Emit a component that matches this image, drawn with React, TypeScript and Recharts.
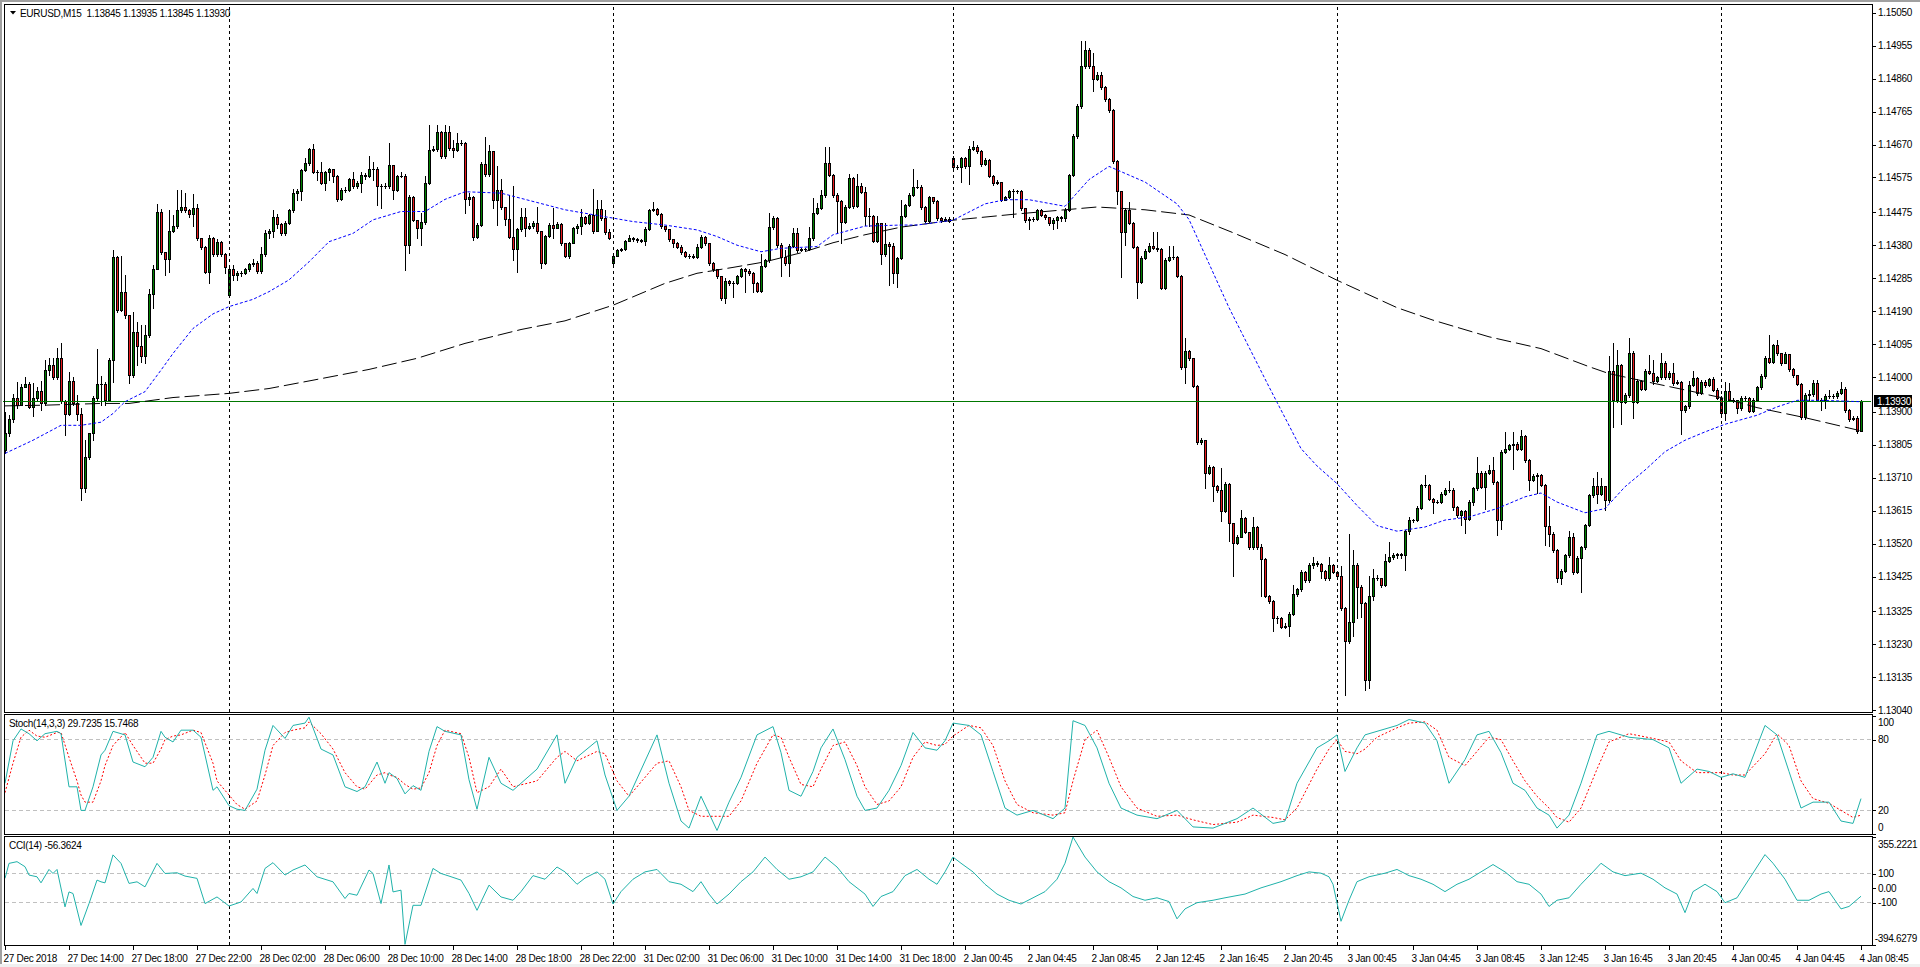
import React from 'react';
import { ComposedChart, Bar, Line, XAxis, YAxis, ReferenceLine } from 'recharts';

// EURUSD M15, 27 Dec 2018 10:00 -> 4 Jan 2019 08:45 (465 bars)
// prices are in points above 1.13000 (1 point = 0.00001)
const closes = [
  840, 880, 940, 920, 970, 980, 915, 940, 960, 925,
  1020, 1035, 1000, 1055, 930, 895, 990, 925, 895, 680,
  770, 840, 940, 980, 980, 935, 1050, 1345, 1193, 1246,
  1180, 1006, 1130, 1090, 1060, 1120, 1240, 1310, 1477, 1360,
  1340, 1420, 1435, 1480, 1490, 1480, 1470, 1486, 1400, 1376,
  1304, 1400, 1355, 1390, 1355, 1316, 1310, 1295, 1300, 1300,
  1310, 1325, 1330, 1305, 1355, 1415, 1420, 1460, 1440, 1416,
  1445, 1480, 1530, 1535, 1597, 1616, 1657, 1592, 1590, 1558,
  1590, 1600, 1580, 1512, 1540, 1540, 1570, 1550, 1560, 1583,
  1580, 1600, 1600, 1550, 1550, 1550, 1610, 1540, 1580, 1580,
  1380, 1520, 1453, 1429, 1446, 1559, 1655, 1657, 1705, 1637,
  1705, 1660, 1655, 1674, 1675, 1512, 1520, 1405, 1438, 1614,
  1585, 1650, 1510, 1540, 1490, 1455, 1405, 1370, 1426, 1460,
  1430, 1435, 1445, 1420, 1330, 1406, 1438, 1430, 1440, 1385,
  1349, 1387, 1429, 1434, 1462, 1445, 1467, 1420, 1483, 1458,
  1419, 1400, 1350, 1365, 1368, 1393, 1400, 1397, 1395, 1393,
  1428, 1480, 1485, 1470, 1435, 1426, 1397, 1387, 1376, 1359,
  1350, 1350, 1347, 1376, 1403, 1385, 1328, 1310, 1290, 1227,
  1278, 1270, 1272, 1290, 1310, 1307, 1300, 1272, 1249, 1320,
  1337, 1432, 1458, 1380, 1347, 1328, 1378, 1414, 1366, 1368,
  1368, 1400, 1472, 1486, 1525, 1618, 1583, 1525, 1506, 1448,
  1491, 1573, 1493, 1550, 1534, 1464, 1464, 1393, 1443, 1355,
  1383, 1378, 1299, 1342, 1464, 1496, 1525, 1549, 1549, 1489,
  1451, 1518, 1506, 1458, 1453, 1455, 1451, 1604, 1605, 1630,
  1607, 1657, 1664, 1650, 1613, 1625, 1580, 1558, 1562, 1511,
  1518, 1537, 1537, 1535, 1486, 1452, 1454, 1456, 1480, 1467,
  1460, 1444, 1452, 1460, 1457, 1482, 1581, 1695, 1782, 1896,
  1943, 1896, 1858, 1870, 1835, 1800, 1769, 1622, 1537, 1419,
  1482, 1444, 1376, 1274, 1343, 1363, 1378, 1372, 1368, 1258,
  1338, 1346, 1346, 1292, 1029, 1076, 1055, 975, 813, 820,
  725, 741, 687, 674, 614, 693, 579, 522, 540, 594,
  553, 509, 569, 509, 477, 369, 356, 306, 306, 280,
  284, 318, 376, 388, 439, 414, 458, 464, 462, 442,
  420, 458, 439, 426, 335, 239, 293, 458, 395, 350,
  128, 369, 420, 420, 400, 470, 483, 487, 490, 486,
  557, 588, 588, 624, 688, 688, 650, 640, 640, 663,
  676, 676, 626, 602, 614, 592, 640, 679, 724, 684,
  724, 732, 698, 588, 785, 794, 804, 808, 794, 830,
  761, 703, 714, 718, 689, 570, 549, 501, 420, 442,
  487, 538, 439, 480, 509, 573, 659, 686, 663, 686,
  647, 1018, 933, 1034, 929, 948, 1070, 929, 989, 967,
  1018, 1012, 989, 999, 1041, 999, 1012, 982, 986, 905,
  916, 977, 996, 953, 986, 977, 993, 964, 941, 897,
  961, 935, 933, 910, 941, 939, 903, 935, 970, 1003,
  1056, 1044, 1092, 1068, 1041, 1066, 1022, 1005, 980, 884,
  948, 950, 983, 935, 934, 945, 945, 945, 955, 967,
  905, 878, 883, 845, 930,
];

const highs = [
  900, 890, 950, 987, 980, 1000, 985, 982, 970, 990,
  1050, 1054, 1054, 1083, 1097, 935, 1015, 1000, 948, 910,
  818, 840, 945, 1080, 1003, 986, 1055, 1366, 1349, 1349,
  1294, 1180, 1188, 1160, 1150, 1150, 1253, 1323, 1498, 1483,
  1360, 1482, 1467, 1540, 1539, 1530, 1485, 1528, 1500, 1402,
  1378, 1410, 1405, 1398, 1393, 1358, 1315, 1323, 1306, 1306,
  1315, 1330, 1340, 1335, 1376, 1424, 1426, 1482, 1470, 1443,
  1450, 1485, 1541, 1541, 1600, 1630, 1660, 1671, 1596, 1620,
  1595, 1602, 1600, 1583, 1545, 1549, 1573, 1592, 1565, 1592,
  1588, 1637, 1620, 1605, 1555, 1558, 1674, 1608, 1583, 1592,
  1585, 1525, 1523, 1453, 1472, 1578, 1727, 1665, 1727, 1708,
  1727, 1724, 1683, 1703, 1683, 1678, 1530, 1523, 1445, 1620,
  1691, 1669, 1650, 1608, 1570, 1490, 1525, 1550, 1429, 1486,
  1486, 1445, 1450, 1491, 1422, 1410, 1445, 1486, 1446, 1445,
  1386, 1390, 1433, 1440, 1483, 1465, 1470, 1541, 1510, 1510,
  1482, 1426, 1355, 1370, 1372, 1396, 1410, 1403, 1400, 1399,
  1432, 1483, 1503, 1488, 1472, 1436, 1428, 1399, 1388, 1380,
  1362, 1356, 1356, 1382, 1408, 1406, 1387, 1332, 1312, 1292,
  1286, 1279, 1276, 1294, 1314, 1313, 1310, 1304, 1274, 1355,
  1341, 1474, 1463, 1462, 1385, 1366, 1383, 1429, 1429, 1373,
  1373, 1432, 1515, 1501, 1539, 1662, 1662, 1585, 1529, 1509,
  1495, 1585, 1575, 1585, 1560, 1549, 1486, 1467, 1464, 1443,
  1445, 1388, 1385, 1346, 1510, 1500, 1530, 1599, 1568, 1553,
  1492, 1522, 1520, 1509, 1460, 1462, 1460, 1636, 1610, 1634,
  1634, 1665, 1680, 1668, 1653, 1630, 1628, 1582, 1568, 1563,
  1523, 1540, 1543, 1540, 1538, 1488, 1460, 1460, 1485, 1483,
  1469, 1462, 1458, 1465, 1463, 1488, 1586, 1700, 1788, 1968,
  1968, 1948, 1934, 1880, 1880, 1840, 1805, 1772, 1625, 1535,
  1486, 1503, 1448, 1378, 1348, 1368, 1386, 1419, 1419, 1372,
  1342, 1378, 1378, 1348, 1295, 1114, 1078, 1056, 978, 825,
  820, 746, 743, 688, 737, 698, 695, 580, 544, 616,
  596, 555, 597, 572, 518, 479, 372, 358, 312, 308,
  290, 322, 400, 393, 444, 442, 463, 481, 470, 464,
  444, 481, 462, 440, 456, 338, 547, 503, 465, 400,
  352, 426, 447, 430, 422, 490, 526, 492, 494, 494,
  560, 597, 592, 628, 691, 717, 691, 653, 646, 668,
  680, 701, 680, 628, 618, 616, 645, 684, 770, 728,
  729, 746, 770, 701, 790, 842, 808, 842, 812, 847,
  833, 765, 720, 723, 720, 693, 628, 553, 505, 446,
  491, 557, 551, 485, 513, 577, 663, 710, 727, 708,
  665, 1060, 1097, 1078, 1038, 953, 1114, 1075, 994, 992,
  1023, 1063, 1049, 1004, 1070, 1046, 1017, 1041, 991, 990,
  920, 989, 1018, 1000, 991, 992, 998, 1001, 968, 945,
  986, 982, 940, 935, 946, 945, 943, 940, 975, 1008,
  1061, 1121, 1096, 1108, 1068, 1073, 1063, 1025, 1006, 983,
  953, 963, 991, 991, 940, 950, 963, 950, 960, 986,
  970, 907, 888, 888, 935,
];

const lows = [
  780, 830, 870, 910, 920, 970, 910, 887, 935, 905,
  920, 1005, 993, 995, 925, 833, 890, 920, 876, 647,
  670, 765, 820, 935, 919, 919, 930, 986, 1188, 1190,
  1170, 982, 1000, 1034, 1044, 1041, 1116, 1198, 1310, 1355,
  1294, 1304, 1418, 1430, 1475, 1475, 1460, 1434, 1395, 1370,
  1299, 1272, 1350, 1350, 1350, 1299, 1230, 1280, 1280, 1290,
  1296, 1305, 1320, 1299, 1300, 1350, 1400, 1405, 1430, 1410,
  1410, 1440, 1475, 1510, 1510, 1595, 1610, 1587, 1568, 1555,
  1539, 1568, 1563, 1506, 1510, 1532, 1535, 1545, 1545, 1534,
  1570, 1575, 1568, 1496, 1486, 1545, 1546, 1512, 1536, 1575,
  1308, 1357, 1450, 1400, 1381, 1440, 1555, 1650, 1650, 1630,
  1630, 1655, 1635, 1650, 1668, 1474, 1496, 1395, 1400, 1435,
  1578, 1580, 1486, 1438, 1485, 1438, 1400, 1337, 1304, 1420,
  1407, 1428, 1430, 1415, 1313, 1325, 1403, 1400, 1430, 1380,
  1345, 1342, 1385, 1415, 1412, 1440, 1440, 1415, 1420, 1453,
  1412, 1397, 1325, 1350, 1363, 1365, 1395, 1392, 1390, 1389,
  1380, 1425, 1478, 1468, 1430, 1420, 1393, 1376, 1372, 1355,
  1346, 1344, 1342, 1343, 1373, 1380, 1323, 1306, 1286, 1222,
  1214, 1265, 1232, 1269, 1288, 1246, 1295, 1246, 1245, 1245,
  1316, 1332, 1428, 1375, 1291, 1323, 1291, 1374, 1360, 1363,
  1363, 1365, 1396, 1470, 1483, 1520, 1578, 1520, 1414, 1387,
  1445, 1488, 1488, 1490, 1530, 1438, 1435, 1390, 1390, 1326,
  1350, 1265, 1270, 1260, 1340, 1460, 1493, 1523, 1545, 1485,
  1446, 1446, 1502, 1453, 1448, 1450, 1448, 1598, 1600, 1562,
  1602, 1556, 1655, 1646, 1608, 1610, 1576, 1553, 1555, 1506,
  1510, 1515, 1460, 1530, 1482, 1448, 1426, 1450, 1453, 1463,
  1456, 1439, 1428, 1430, 1450, 1450, 1478, 1578, 1690, 1775,
  1890, 1890, 1825, 1855, 1830, 1795, 1765, 1617, 1499, 1289,
  1381, 1440, 1372, 1228, 1270, 1340, 1360, 1368, 1364, 1254,
  1254, 1335, 1340, 1287, 1024, 982, 1050, 970, 807, 807,
  680, 720, 642, 670, 585, 610, 528, 426, 518, 538,
  550, 505, 506, 505, 369, 365, 350, 268, 290, 276,
  278, 255, 315, 368, 385, 410, 410, 450, 455, 420,
  415, 416, 435, 420, 330, 84, 235, 255, 305, 310,
  97, 103, 358, 415, 395, 398, 468, 475, 478, 480,
  445, 549, 583, 585, 620, 683, 645, 607, 636, 638,
  660, 670, 618, 598, 573, 551, 588, 631, 675, 680,
  621, 720, 693, 544, 561, 780, 790, 734, 790, 790,
  756, 674, 700, 666, 685, 516, 513, 497, 410, 403,
  438, 483, 434, 435, 381, 505, 570, 655, 636, 660,
  618, 640, 855, 928, 866, 925, 944, 881, 925, 962,
  963, 1008, 980, 985, 995, 994, 995, 978, 979, 835,
  898, 910, 973, 949, 950, 972, 974, 960, 937, 892,
  876, 930, 928, 897, 905, 934, 898, 900, 930, 965,
  998, 1040, 1040, 1063, 1036, 1040, 1018, 1000, 976, 880,
  880, 933, 946, 930, 905, 912, 940, 940, 940, 950,
  900, 873, 875, 838, 845,
];

// bars whose open differs from the previous close (session gaps)
const gapOpens: Record<number, number> = { 0: 790, 56: 1237, 152: 1330, 237: 1632 };

// blue dotted moving average, read at these bars
const maFastIdx = [0, 7, 14, 19, 24, 27, 30, 35, 39, 42, 47, 52, 56, 62, 66, 71, 76, 81, 87, 92, 99, 105, 110, 115, 124, 132, 140, 149, 157, 165, 173, 178, 183, 189, 194, 203, 207, 215, 224, 228, 237, 245, 250, 256, 265, 271, 276, 285, 293, 296, 301, 306, 311, 316, 320, 324, 328, 333, 338, 343, 348, 355, 360, 366, 373, 380, 384, 388, 395, 400, 405, 410, 415, 420, 425, 430, 438, 443, 448, 454, 464];
const maFastVal = [780, 818, 861, 861, 870, 895, 929, 958, 1020, 1068, 1140, 1182, 1203, 1224, 1246, 1280, 1332, 1390, 1414, 1453, 1477, 1477, 1512, 1534, 1530, 1506, 1482, 1464, 1448, 1438, 1424, 1405, 1380, 1361, 1371, 1376, 1410, 1435, 1438, 1438, 1452, 1499, 1511, 1511, 1492, 1569, 1607, 1562, 1499, 1454, 1327, 1200, 1086, 972, 883, 794, 744, 693, 630, 572, 556, 568, 588, 597, 621, 655, 666, 640, 609, 621, 684, 732, 785, 818, 842, 864, 890, 914, 933, 933, 929];

// black dashed moving average
const maSlowIdx = [0, 10, 24, 31, 42, 56, 66, 77, 91, 103, 115, 129, 140, 152, 165, 173, 182, 190, 199, 207, 215, 224, 237, 253, 273, 285, 296, 307, 320, 333, 348, 357, 371, 384, 396, 401, 413, 429, 438, 450, 464];
const maSlowVal = [917, 919, 924, 924, 941, 953, 967, 991, 1022, 1054, 1097, 1137, 1162, 1207, 1270, 1299, 1316, 1332, 1358, 1387, 1410, 1432, 1452, 1470, 1490, 1482, 1467, 1416, 1353, 1279, 1200, 1164, 1116, 1082, 1030, 1010, 980, 941, 912, 883, 845];

// Stochastic(14,3,3): %K and %D read at these bars
const stochIdx = [
  0, 2, 4, 6, 8, 10, 13, 14, 16, 18, 19, 20, 22, 24, 25, 27, 30, 32, 35, 37, 39, 40, 42, 44, 47, 49, 52, 53, 56, 58, 60, 63, 65, 67, 70, 72, 75, 76, 79, 82, 85, 88, 90, 93, 95, 96, 98, 100, 102, 104, 106, 108, 110, 114, 116, 118, 121, 124,
  127, 133, 138, 140, 143, 148, 150, 153, 156, 163, 166, 169, 171, 174, 178, 181, 184, 188, 192, 194,
  196, 199, 202, 204, 207, 210, 213, 215, 218, 221, 224, 227, 230, 233, 235, 237, 241, 244, 247, 250,
  253, 257, 262, 265, 267, 270, 273, 276, 279, 283, 288, 293, 297, 302, 308, 312, 317, 320, 323, 328,
  331, 333, 335, 338, 340, 343, 348, 351, 355, 358, 361, 365, 368, 371, 374, 377, 380, 383, 386, 388,
  391, 394, 398, 401, 406, 412, 416, 419, 423, 426, 429, 432, 435, 440, 443, 446, 449, 452, 456, 459, 462, 464,
];
const stochK = [
  43, 79, 89, 85, 79, 85, 87, 85, 40, 40, 20, 20, 40, 67, 71, 87, 84, 61, 57, 65, 87, 82, 78, 88, 88, 82, 37, 40, 24, 21, 20, 38, 71, 92, 81, 92, 94, 99, 72, 67, 40, 36, 40, 61, 43, 52, 47, 34, 41, 37, 70, 91, 87, 84, 46, 21, 65, 43,
  37, 55, 84, 43, 65, 79, 50, 20, 32, 84, 43, 11, 5, 32, 3, 27, 48, 84, 91, 69,
  37, 32, 53, 73, 89, 63, 32, 20, 22, 37, 58, 86, 73, 71, 79, 94, 92, 84, 53, 22,
  16, 20, 13, 22, 96, 92, 73, 43, 22, 16, 13, 20, 6, 5, 13, 22, 9, 11, 43, 73,
  79, 84, 53, 73, 84, 87, 92, 97, 94, 79, 43, 63, 84, 87, 69, 43, 37, 22, 16, 5,
  16, 43, 84, 87, 82, 80, 73, 43, 55, 53, 48, 51, 48, 92, 84, 53, 22, 27, 27, 11, 9, 30,
];
const stochD = [
  35, 60, 82, 88, 83, 82, 86, 86, 65, 45, 33, 27, 27, 45, 58, 75, 86, 75, 60, 60, 72, 80, 83, 84, 88, 86, 60, 45, 33, 25, 21, 28, 50, 75, 86, 88, 90, 95, 85, 72, 52, 40, 38, 50, 52, 50, 48, 42, 38, 39, 52, 75, 88, 85, 65, 35, 40, 55,
  40, 45, 65, 70, 62, 70, 68, 45, 32, 60, 62, 40, 20, 15, 15, 15, 28, 60, 84, 82,
  65, 42, 40, 55, 75, 78, 58, 40, 25, 28, 40, 65, 78, 75, 76, 83, 92, 90, 75, 45,
  25, 18, 16, 18, 45, 80, 88, 65, 40, 22, 15, 16, 12, 8, 10, 16, 14, 12, 22, 55,
  72, 80, 70, 68, 72, 82, 90, 94, 95, 88, 65, 58, 70, 82, 80, 62, 45, 32, 22, 14,
  10, 22, 55, 78, 85, 81, 78, 62, 52, 52, 52, 50, 50, 68, 85, 75, 45, 30, 26, 20, 14, 16,
];

// CCI(14)
const cciIdx = [
  0, 1, 3, 5, 6, 8, 9, 11, 12, 13, 15, 16, 17, 19, 21, 23, 24, 25, 27, 29, 31, 33, 35, 38, 40, 43, 45, 48, 50, 53, 56, 59, 62, 63, 65, 67, 70, 72, 75, 78, 82, 85, 86, 88, 91, 92, 94, 96, 97, 99, 100, 102, 104, 107, 109, 111, 114, 116, 118, 121, 124,
  127, 129, 132, 135, 138, 140, 143, 145, 148, 150, 152, 154, 157, 160, 163, 166, 169, 172, 174, 176,
  178, 181, 184, 187, 190, 193, 196, 199, 202, 205, 208, 211, 215, 217, 219, 222, 225, 228, 231, 233,
  235, 237, 239, 242, 245, 248, 251, 254, 257, 260, 263, 265, 267, 270, 273, 276, 279, 282, 285, 288,
  291, 293, 295, 298, 302, 305, 310, 314, 319, 323, 326, 329, 331, 332, 334, 336, 338, 341, 345, 348,
  351, 354, 357, 360, 363, 366, 369, 372, 375, 378, 381, 384, 386, 388, 391, 394, 397, 399, 402, 405,
  409, 412, 415, 418, 420, 422, 425, 428, 430, 433, 436, 440, 442, 445, 448, 451, 454, 456, 459, 461, 464,
];
const cciVal = [
  68, 172, 184, 149, 91, 79, 37, 130, 102, 130, -130, -26, -37, -259, -107, 56, 44, 37, 231, 172, 33, 44, 9, 172, 102, 107, 84, 68, -107, -61, -124, -96, -2, -37, 137, 177, 91, 126, 161, 79, 44, -72, -37, -49, 126, 102, -107, 161, -26, -14, -390, -119, -119, 137, 102, 84, 56, -37, -154, 21, -61,
  -84, -24, 87, 62, 147, 113, 27, 70, 113, 62, -110, -24, 62, 113, 130, 45, 27, -24, 45, -41,
  -110, -41, 45, 113, 216, 130, 62, 79, 113, 216, 147, 45, -41, -127, -58, -24, 87, 130, 62, 27,
  113, 216, 173, 113, 27, -41, -84, -110, -67, -24, 62, 173, 355, 216, 113, 45, 2, -58, -84, -67,
  -93, -213, -144, -101, -84, -67, -41, 2, 45, 87, 113, 104, 79, 27, -230, -84, 45, 79, 104, 130,
  87, 62, 27, -24, 27, 62, 113, 164, 113, 45, 27, -41, -127, -84, -67, 27, 113, 173, 113, 87,
  104, 62, 2, -41, -170, -24, 27, -24, -101, -67, 62, 233, 173, 62, -84, -84, -41, -24, -144, -127, -56,
];

const priceTicks = [2050, 1955, 1860, 1765, 1670, 1575, 1475, 1380, 1285, 1190, 1095, 1000, 900, 805, 710, 615, 520, 425, 325, 230, 135, 40];
const lastPrice = 930;

const timeTickIdx = [0, 16, 32, 48, 64, 80, 96, 112, 128, 144, 160, 176, 192, 208, 224, 240, 256, 272, 288, 304, 320, 336, 352, 368, 384, 400, 416, 432, 448, 464];
const timeTickLabels = ['27 Dec 2018', '27 Dec 14:00', '27 Dec 18:00', '27 Dec 22:00', '28 Dec 02:00', '28 Dec 06:00', '28 Dec 10:00', '28 Dec 14:00', '28 Dec 18:00', '28 Dec 22:00', '31 Dec 02:00', '31 Dec 06:00', '31 Dec 10:00', '31 Dec 14:00', '31 Dec 18:00', '2 Jan 00:45', '2 Jan 04:45', '2 Jan 08:45', '2 Jan 12:45', '2 Jan 16:45', '2 Jan 20:45', '3 Jan 00:45', '3 Jan 04:45', '3 Jan 08:45', '3 Jan 12:45', '3 Jan 16:45', '3 Jan 20:45', '4 Jan 00:45', '4 Jan 04:45', '4 Jan 08:45'];

// first bar of each new day
const daySeparators = [56, 152, 237, 333, 429];

const FONT = "'Liberation Sans', Arial, sans-serif";
const BULL = '#008000';
const BEAR = '#e8191c';
const TEAL = '#20b2aa';
const LEVEL = '#c0c0c0';

const toMap = (idx: number[], vals: number[]) => new Map(idx.map((k, j) => [k, vals[j]] as [number, number]));
const fastMap = toMap(maFastIdx, maFastVal);
const slowMap = toMap(maSlowIdx, maSlowVal);
const kMap = toMap(stochIdx, stochK);
const dMap = toMap(stochIdx, stochD);
const cciMap = toMap(cciIdx, cciVal);
const timeLabelMap = new Map(timeTickIdx.map((k, j) => [k, timeTickLabels[j]] as [number, string]));

// two empty slots on the right, like the terminal's chart shift
const rows = Array.from({ length: closes.length + 2 }, (_, i) => {
  const has = i < closes.length;
  return {
    i,
    o: has ? gapOpens[i] ?? closes[i - 1] : null,
    c: has ? closes[i] : null,
    h: has ? highs[i] : null,
    l: has ? lows[i] : null,
    range: has ? [lows[i], highs[i]] : null,
    maFast: fastMap.get(i) ?? null,
    maSlow: slowMap.get(i) ?? null,
    k: kMap.get(i) ?? null,
    d: dMap.get(i) ?? null,
    cci: cciMap.get(i) ?? null,
  };
});

const fmtPrice = (v: number) => (1.13 + v / 100000).toFixed(5);

function Candle(props: any) {
  const { x, y, width, height, payload } = props;
  if (!payload || payload.c == null) return null;
  const { o, c, h, l } = payload;
  const top = Math.min(y, y + height);
  const span = Math.abs(height);
  const ppp = h > l ? span / (h - l) : 0;
  const py = (v: number) => top + (h - v) * ppp;
  const cx = Math.round(x + width / 2);
  const bTop = Math.round(Math.min(py(o), py(c)));
  const bBot = Math.round(Math.max(py(o), py(c)));
  return (
    <g shapeRendering="crispEdges">
      <line x1={cx + 0.5} x2={cx + 0.5} y1={Math.round(top)} y2={Math.round(top + span) + 1} stroke="#000" />
      {bBot - bTop < 1 ? (
        <line x1={cx - 1} x2={cx + 2} y1={bTop + 0.5} y2={bTop + 0.5} stroke="#000" />
      ) : (
        <rect x={cx - 0.5} y={bTop + 0.5} width={2} height={bBot - bTop} fill={c >= o ? BULL : BEAR} stroke="#000" />
      )}
    </g>
  );
}

const textStyle = { fontFamily: FONT, fontSize: 10, letterSpacing: '-0.3px' } as const;

function PriceTick(props: any) {
  const { y, payload } = props;
  const yy = Math.round(y) + 0.5;
  return (
    <g>
      <line x1={1872} x2={1876} y1={yy} y2={yy} stroke="#000" shapeRendering="crispEdges" />
      <text x={1878} y={y + 3.6} fill="#000" style={textStyle}>{fmtPrice(payload.value)}</text>
    </g>
  );
}

function makeLevelTick(labels: Record<string, string>, shifts: Record<string, number>, endAnchored: string[] = []) {
  return (props: any) => {
    const { y, payload } = props;
    const key = String(payload.value);
    const yy = Math.round(y) + 0.5;
    const atEnd = endAnchored.includes(key);
    return (
      <g>
        <line x1={1872} x2={1876} y1={yy} y2={yy} stroke="#000" shapeRendering="crispEdges" />
        <text x={atEnd ? 1917 : 1878} y={y + 3.6 + (shifts[key] ?? 0)} textAnchor={atEnd ? 'end' : 'start'} fill="#000" style={textStyle}>
          {labels[key]}
        </text>
      </g>
    );
  };
}

const StochTick = makeLevelTick({ '100': '100', '80': '80', '20': '20', '0': '0' }, { '100': 6, '0': -6.5 });
const CCI_MAX = 355.2221;
const CCI_MIN = -394.6279;
const CciTick = makeLevelTick(
  { [String(CCI_MAX)]: '355.2221', '100': '100', '0': '0.00', '-100': '-100', [String(CCI_MIN)]: '-394.6279' },
  { [String(CCI_MAX)]: 7, [String(CCI_MIN)]: -7 },
  [String(CCI_MIN)],
);

function TimeTick(props: any) {
  const { x, payload } = props;
  const cx = Math.round(x) + 0.5;
  return (
    <g>
      <line x1={cx} x2={cx} y1={109} y2={114} stroke="#000" shapeRendering="crispEdges" />
      <text x={cx - 2} y={126} fill="#000" style={textStyle}>{timeLabelMap.get(payload.value)}</text>
    </g>
  );
}

function PriceTag(props: any) {
  const vb = props.viewBox;
  if (!vb) return null;
  const yc = Math.round(vb.y);
  return (
    <g>
      <rect x={1874} y={yc - 6} width={38} height={12} fill="#000" />
      <text x={1877} y={yc + 3.6} fill="#fff" style={textStyle}>{fmtPrice(lastPrice)}</text>
    </g>
  );
}

const separatorLines = daySeparators.map((s) => (
  <ReferenceLine key={s} x={s} stroke="#000" strokeDasharray="3 3" shapeRendering="crispEdges" />
));

export default function App() {
  return (
    <div style={{ position: 'relative', width: 1920, height: 967, background: '#fff', overflow: 'hidden' }}>
      <style>{'body{margin:0}'}</style>

      <div style={{ position: 'absolute', left: 0, top: 0 }}>
        <ComposedChart width={1920} height={722} data={rows} margin={{ top: 5, right: 0, bottom: 10, left: 3 }} barCategoryGap={0}>
          <XAxis dataKey="i" type="category" scale="band" hide />
          <YAxis orientation="right" width={49} type="number" domain={[35, 2072]} allowDataOverflow ticks={priceTicks} interval={0} tick={PriceTick} tickLine={false} axisLine={false} />
          {separatorLines}
          <ReferenceLine y={lastPrice} stroke="#007800" shapeRendering="crispEdges" label={PriceTag} />
          <Bar dataKey="range" shape={Candle} isAnimationActive={false} />
          <Line dataKey="maSlow" stroke="#000" strokeWidth={1} strokeDasharray="15 5" dot={false} connectNulls isAnimationActive={false} />
          <Line dataKey="maFast" stroke="#0000ff" strokeWidth={1} strokeDasharray="3 2" dot={false} connectNulls isAnimationActive={false} />
        </ComposedChart>
      </div>

      <div style={{ position: 'absolute', left: 0, top: 714 }}>
        <ComposedChart width={1920} height={122} data={rows} margin={{ top: 2, right: 0, bottom: 2, left: 3 }} barCategoryGap={0}>
          <XAxis dataKey="i" type="category" scale="band" hide />
          <YAxis orientation="right" width={49} type="number" domain={[0, 100]} ticks={[100, 80, 20, 0]} interval={0} tick={StochTick} tickLine={false} axisLine={false} />
          <ReferenceLine y={80} stroke={LEVEL} strokeDasharray="4 3" shapeRendering="crispEdges" />
          <ReferenceLine y={20} stroke={LEVEL} strokeDasharray="4 3" shapeRendering="crispEdges" />
          {separatorLines}
          <Bar dataKey="none" isAnimationActive={false} />
          <Line dataKey="d" stroke="#ff0000" strokeWidth={1} strokeDasharray="2 2" dot={false} connectNulls isAnimationActive={false} />
          <Line dataKey="k" stroke={TEAL} strokeWidth={1} dot={false} connectNulls isAnimationActive={false} />
        </ComposedChart>
      </div>

      <div style={{ position: 'absolute', left: 0, top: 836 }}>
        <ComposedChart width={1920} height={131} data={rows} margin={{ top: 1, right: 0, bottom: 0, left: 3 }} barCategoryGap={0}>
          <XAxis dataKey="i" type="category" scale="band" height={22} ticks={timeTickIdx} interval={0} tick={TimeTick} tickLine={false} axisLine={false} />
          <YAxis orientation="right" width={49} type="number" domain={[CCI_MIN, CCI_MAX]} ticks={[CCI_MAX, 100, 0, -100, CCI_MIN]} interval={0} tick={CciTick} tickLine={false} axisLine={false} />
          <ReferenceLine y={100} stroke={LEVEL} strokeDasharray="4 3" shapeRendering="crispEdges" />
          <ReferenceLine y={-100} stroke={LEVEL} strokeDasharray="4 3" shapeRendering="crispEdges" />
          {separatorLines}
          <Bar dataKey="none" isAnimationActive={false} />
          <Line dataKey="cci" stroke={TEAL} strokeWidth={1} dot={false} connectNulls isAnimationActive={false} />
        </ComposedChart>
      </div>

      <svg width={1920} height={967} style={{ position: 'absolute', left: 0, top: 0, pointerEvents: 'none' }}>
        <rect x={0} y={0} width={1920} height={2} fill="#a0a0a0" />
        <rect x={0} y={0} width={2} height={967} fill="#a0a0a0" />
        <rect x={0} y={964} width={1920} height={3} fill="#f0f0f0" />
        <g fill="none" stroke="#000" shapeRendering="crispEdges">
          <rect x={4.5} y={4.5} width={1867.5} height={708} />
          <rect x={4.5} y={714.5} width={1867.5} height={120} />
          <rect x={4.5} y={836.5} width={1867.5} height={109} />
        </g>
        <polygon points="10,11 16,11 13,14.5" fill="#000" />
        <text x={20} y={16.5} fill="#000" style={{ ...textStyle, whiteSpace: 'pre' }}>{'EURUSD,M15  1.13845 1.13935 1.13845 1.13930'}</text>
        <text x={9} y={727} fill="#000" style={textStyle}>{'Stoch(14,3,3) 29.7235 15.7468'}</text>
        <text x={9} y={849} fill="#000" style={textStyle}>{'CCI(14) -56.3624'}</text>
      </svg>
    </div>
  );
}
